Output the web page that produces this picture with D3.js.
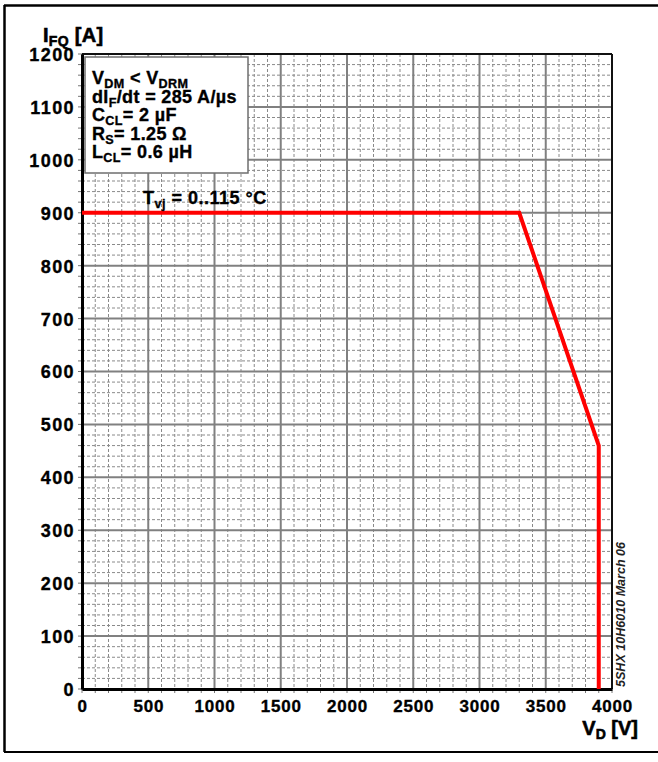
<!DOCTYPE html>
<html>
<head>
<meta charset="utf-8">
<script src="https://cdn.jsdelivr.net/npm/d3@7"></script>
<style>
  html, body { margin: 0; padding: 0; background: #ffffff; }
  svg { display: block; }
  text { font-family: "Liberation Sans", Arial, Helvetica, sans-serif; }
</style>
</head>
<body>
<script>
// ---- data ----
const xTicks = [0, 500, 1000, 1500, 2000, 2500, 3000, 3500, 4000];
const yTicks = [0, 100, 200, 300, 400, 500, 600, 700, 800, 900, 1000, 1100, 1200];
const xMinor = d3.range(0, 4001, 100);
const yMinor = d3.range(0, 1201, 20);
const curveV = [0, 3300, 3900, 3900];
const curveI = [900, 900, 460, 0];
const legendLines = [
  [["V", ""], ["DM", "sub"], [" < V", ""], ["DRM", "sub"]],
  [["dI", ""], ["F", "sub"], ["/dt = 285 A/\u00b5s", ""]],
  [["C", ""], ["CL", "sub"], ["= 2 \u00b5F", ""]],
  [["R", ""], ["S", "sub"], ["= 1.25 \u03a9", ""]],
  [["L", ""], ["CL", "sub"], ["= 0.6 \u00b5H", ""]]
];
const curveLabel = [["T", ""], ["vj", "sub"], [" = 0..115 \u00b0C", ""]];
const yTitle = [["I", ""], ["FQ", "sub"], [" [A]", ""]];
const xTitle = [["V", ""], ["D", "sub"], [" [V]", ""]];
const stamp = "5SHX 10H6010 March 06";

// ---- layout ----
const W = 658, H = 762;
const m = { left: 82, top: 54, right: 612, bottom: 689 };

const svg = d3.select("body").append("svg").attr("width", W).attr("height", H);

// outer frame
svg.append("line").attr("x1", 4).attr("x2", W).attr("y1", 5.5).attr("y2", 5.5).attr("stroke", "#000").attr("stroke-width", 2.5);
svg.append("line").attr("x1", 4.5).attr("x2", 4.5).attr("y1", 5).attr("y2", 752).attr("stroke", "#000").attr("stroke-width", 2.5);
svg.append("line").attr("x1", 4).attr("x2", W).attr("y1", 752).attr("y2", 752).attr("stroke", "#000").attr("stroke-width", 2);

const x = d3.scaleLinear().domain([0, 4000]).range([m.left, m.right]);
const y = d3.scaleLinear().domain([0, 1200]).range([m.bottom, m.top]);

svg.append("rect").attr("x", m.left).attr("y", m.top)
  .attr("width", m.right - m.left).attr("height", m.bottom - m.top).attr("fill", "#fff");

// minor grid
const g = svg.append("g");
g.selectAll(".vx").data(xMinor.filter(v => v % 500 !== 0)).join("line")
  .attr("x1", d => x(d)).attr("x2", d => x(d)).attr("y1", m.top).attr("y2", m.bottom)
  .attr("stroke", "#8a8a8a").attr("stroke-width", 1).attr("stroke-dasharray", "3,2");
g.selectAll(".hy").data(yMinor.filter(v => v % 100 !== 0)).join("line")
  .attr("y1", d => y(d)).attr("y2", d => y(d)).attr("x1", m.left).attr("x2", m.right)
  .attr("stroke", "#8a8a8a").attr("stroke-width", 1).attr("stroke-dasharray", "3,2");
// major grid
g.selectAll(".mx").data(xTicks).join("line")
  .attr("x1", d => x(d)).attr("x2", d => x(d)).attr("y1", m.top).attr("y2", m.bottom)
  .attr("stroke", "#808080").attr("stroke-width", 2);
g.selectAll(".my").data(yTicks).join("line")
  .attr("y1", d => y(d)).attr("y2", d => y(d)).attr("x1", m.left).attr("x2", m.right)
  .attr("stroke", "#808080").attr("stroke-width", 2);

// ticks outside
g.selectAll(".tx").data(xMinor).join("line")
  .attr("x1", d => x(d)).attr("x2", d => x(d)).attr("y1", m.bottom).attr("y2", m.bottom + 4)
  .attr("stroke", "#777").attr("stroke-width", 1);
g.selectAll(".ty").data(yMinor).join("line")
  .attr("y1", d => y(d)).attr("y2", d => y(d)).attr("x1", m.left - 4).attr("x2", m.left)
  .attr("stroke", "#777").attr("stroke-width", 1);

// frame of plot
svg.append("line").attr("x1", m.left).attr("x2", m.right).attr("y1", m.top).attr("y2", m.top).attr("stroke", "#111").attr("stroke-width", 2);
svg.append("line").attr("x1", m.right).attr("x2", m.right).attr("y1", m.top).attr("y2", m.bottom).attr("stroke", "#111").attr("stroke-width", 2);

// axes via d3
const fontStack = '"Liberation Sans", Arial, sans-serif';
const xAxis = svg.append("g").attr("transform", `translate(0,${m.bottom})`)
  .call(d3.axisBottom(x).tickValues(xTicks).tickSize(0).tickPadding(0).tickFormat(d3.format("d")));
xAxis.select(".domain").attr("stroke", "#000").attr("stroke-width", 3);
xAxis.selectAll("text").attr("font-family", fontStack).attr("font-size", 17).attr("font-weight", "bold")
  .attr("fill", "#000").attr("stroke", "#000").attr("stroke-width", 0.35)
  .attr("dy", null).attr("y", 23).attr("letter-spacing", "0.8px");

const yAxis = svg.append("g").attr("transform", `translate(${m.left},0)`)
  .call(d3.axisLeft(y).tickValues(yTicks).tickSize(0).tickPadding(0).tickFormat(d3.format("d")));
yAxis.select(".domain").attr("stroke", "#000").attr("stroke-width", 3);
yAxis.selectAll("text").attr("font-family", fontStack).attr("font-size", 18).attr("font-weight", "bold")
  .attr("fill", "#000").attr("stroke", "#000").attr("stroke-width", 0.35)
  .attr("x", -7).attr("dy", "0.36em").attr("letter-spacing", "1.4px");

// curve
const line = d3.line().x((d, i) => x(curveV[i])).y((d, i) => y(curveI[i]));
svg.append("path").datum(curveV).attr("d", line)
  .attr("fill", "none").attr("stroke", "#ff0000").attr("stroke-width", 4).attr("stroke-linejoin", "miter");

// rich text helper
function rich(parent, parts, px, py, size, anchor, spacing, sw) {
  const t = parent.append("text").attr("x", px).attr("y", py)
    .attr("font-family", fontStack)
    .attr("font-size", size).attr("font-weight", "bold").attr("fill", "#000")
    .attr("stroke", "#000").attr("stroke-width", sw || 0.35)
    .attr("letter-spacing", (spacing || 0) + "px")
    .attr("text-anchor", anchor || "start");
  let shifted = false;
  const sh = size * 0.22;
  parts.forEach(([s, k]) => {
    const ts = t.append("tspan").text(s);
    if (k === "sub") {
      ts.attr("font-size", size * 0.7).attr("dy", shifted ? 0 : sh);
      shifted = true;
    } else {
      if (shifted) ts.attr("dy", -sh);
      shifted = false;
    }
  });
  return t;
}

// legend box
svg.append("rect").attr("x", 85).attr("y", 57).attr("width", 163).attr("height", 116)
  .attr("fill", "#fff").attr("stroke", "#6e6e6e").attr("stroke-width", 1.5);
legendLines.forEach((ln, i) => rich(svg, ln, 92, 84 + i * 18.6, 18, "start", 0.35));

// curve label
rich(svg, curveLabel, 143, 204, 18, "start", 0.5);

// axis titles
rich(svg, yTitle, 43, 42, 20, "start", 0.3, 0.6);
rich(svg, xTitle, 638, 735, 20, "end", 0, 0.6);

// stamp
svg.append("text").attr("transform", `translate(625,687) rotate(-90)`)
  .attr("font-family", fontStack)
  .attr("font-size", 12).attr("font-style", "italic").attr("font-weight", "bold").attr("fill", "#222")
  .attr("textLength", 145).attr("lengthAdjust", "spacingAndGlyphs")
  .text(stamp);
</script>
</body>
</html>
